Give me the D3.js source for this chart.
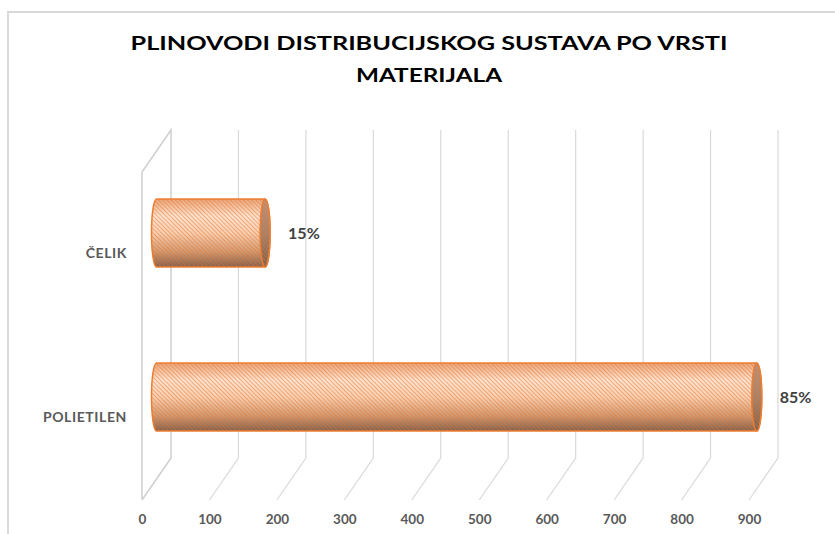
<!DOCTYPE html>
<html>
<head>
<meta charset="utf-8">
<script src="https://cdn.jsdelivr.net/npm/d3@7"></script>
<style>
  body { margin: 0; background: #fff; }
  text { font-family: Lato, "Open Sans", sans-serif; }
</style>
</head>
<body>
<div id="chart"></div>
<script>
// data
var categories = ["ČELIK", "POLIETILEN"];
var values = [161, 890];
var shares = ["15%", "85%"];
var xTicks = [0, 100, 200, 300, 400, 500, 600, 700, 800, 900];
var titleLines = ["PLINOVODI DISTRIBUCIJSKOG SUSTAVA PO VRSTI", "MATERIJALA"];
var titleWidths = [597, 146];

var width = 835, height = 534;
var back = {left: 171, right: 778, top: 130, bottom: 458};
var depth = {dx: -29, dy: 42};   // back plane -> front plane

var svg = d3.select("#chart")
    .append("svg")
    .attr("width", width)
    .attr("height", height);

// chart frame
svg.append("path")
    .attr("d", "M8,534 L8,12 L835,12")
    .attr("fill", "none")
    .attr("stroke", "#d9d9d9")
    .attr("stroke-width", 2);

// title
svg.selectAll(".title")
    .data(titleLines)
    .enter()
    .append("text")
    .attr("class", "title")
    .attr("x", 429)
    .attr("y", function (d, i) { return 50 + i * 32; })
    .attr("text-anchor", "middle")
    .attr("textLength", function (d, i) { return titleWidths[i]; })
    .attr("lengthAdjust", "spacingAndGlyphs")
    .style("font-size", "19px")
    .style("font-weight", "bold")
    .style("fill", "#000")
    .text(function (d) { return d; });

var x = d3.scaleLinear()
    .domain([0, 900])
    .range([back.left, back.right]);

var y = d3.scaleBand()
    .domain(categories)
    .range([back.top, back.bottom])
    .padding(0);

// left wall
svg.append("path")
    .attr("d", "M" + (x(0) + depth.dx) + "," + (back.bottom + depth.dy) +
        " L" + (x(0) + depth.dx) + "," + (back.top + depth.dy) +
        " L" + x(0) + "," + back.top +
        " L" + x(0) + "," + back.bottom +
        " L" + (x(0) + depth.dx) + "," + (back.bottom + depth.dy))
    .attr("fill", "none")
    .attr("stroke", "#cfcfcf")
    .attr("stroke-width", 1.5);

// gridlines: up the back wall, then across the floor
svg.append("g")
    .selectAll("path")
    .data(xTicks.slice(1))
    .enter()
    .append("path")
    .attr("d", function (d) {
        return "M" + x(d) + "," + back.top + " L" + x(d) + "," + back.bottom +
            " L" + (x(d) + depth.dx) + "," + (back.bottom + depth.dy);
    })
    .attr("fill", "none")
    .attr("stroke", "#d9d9d9")
    .attr("stroke-width", 1.2);

// fills for the cylinders
var defs = svg.append("defs");
var grad = defs.append("linearGradient")
    .attr("id", "tube")
    .attr("x1", 0).attr("y1", 0).attr("x2", 0).attr("y2", 1);
[[0, "#e9a57a"], [0.25, "#fde3d0"], [0.5, "#f8d0b2"], [0.78, "#cf9871"], [1, "#7d6050"]]
    .forEach(function (s) {
        grad.append("stop").attr("offset", s[0]).attr("stop-color", s[1]);
    });

var hatch = defs.append("pattern")
    .attr("id", "hatch")
    .attr("patternUnits", "userSpaceOnUse")
    .attr("width", 3)
    .attr("height", 3)
    .attr("patternTransform", "rotate(-45)");
hatch.append("rect")
    .attr("width", 1).attr("height", 3)
    .attr("fill", "#e8732a").attr("opacity", 0.5);

var capGrad = defs.append("linearGradient")
    .attr("id", "cap")
    .attr("x1", 0).attr("y1", 0).attr("x2", 0).attr("y2", 1);
[[0, "#b89480"], [0.5, "#a4846f"], [1, "#7a6050"]]
    .forEach(function (s) {
        capGrad.append("stop").attr("offset", s[0]).attr("stop-color", s[1]);
    });

// bars sit halfway between back and front planes
var mid = {dx: depth.dx / 2, dy: depth.dy / 2};
var rx = 5, barH = 68;

var bars = svg.append("g")
    .selectAll("g")
    .data(categories)
    .enter()
    .append("g");

function barY(d) { return y(d) + y.bandwidth() / 2 + mid.dy; }
function barEnd(d, i) { return x(values[i]) + mid.dx; }

function bodyPath(d, i) {
    var xs = x(0) + mid.dx, xe = barEnd(d, i);
    var cy = barY(d);
    var t = cy - barH / 2, b = cy + barH / 2, ry = barH / 2;
    return "M" + xs + "," + t + " L" + xe + "," + t +
        " A" + rx + "," + ry + " 0 0 1 " + xe + "," + b +
        " L" + xs + "," + b +
        " A" + rx + "," + ry + " 0 0 1 " + xs + "," + t + "Z";
}

bars.append("path")
    .attr("d", bodyPath)
    .attr("fill", "url(#tube)");
bars.append("path")
    .attr("d", bodyPath)
    .attr("fill", "url(#hatch)")
    .attr("stroke", "#ed7d31")
    .attr("stroke-width", 1.5);

bars.append("ellipse")
    .attr("cx", barEnd)
    .attr("cy", barY)
    .attr("rx", rx)
    .attr("ry", barH / 2)
    .attr("fill", "url(#cap)");
bars.append("ellipse")
    .attr("cx", barEnd)
    .attr("cy", barY)
    .attr("rx", rx)
    .attr("ry", barH / 2)
    .attr("fill", "url(#hatch)")
    .attr("stroke", "#ed7d31")
    .attr("stroke-width", 1.5);

// share labels
bars.append("text")
    .attr("x", function (d, i) { return barEnd(d, i) + 23; })
    .attr("y", barY)
    .attr("dy", "0.35em")
    .style("font-size", "16px")
    .style("font-weight", "bold")
    .style("fill", "#404040")
    .text(function (d, i) { return shares[i]; });

// value axis on the front edge of the floor
var xFront = d3.scaleLinear()
    .domain(x.domain())
    .range([back.left + depth.dx, back.right + depth.dx]);
svg.append("g")
    .attr("transform", "translate(0," + (back.bottom + depth.dy + 6) + ")")
    .call(d3.axisBottom(xFront).tickValues(xTicks).tickSize(0).tickPadding(8))
    .call(function (g) { g.select(".domain").remove(); })
    .selectAll("text")
    .style("font-family", "Lato, sans-serif")
    .style("font-size", "13.5px")
    .style("font-weight", "bold")
    .style("fill", "#595959");

// category axis on the front-left wall edge
var yFront = d3.scaleBand()
    .domain(categories)
    .range([back.top + depth.dy, back.bottom + depth.dy]);
svg.append("g")
    .attr("transform", "translate(" + (back.left + depth.dx) + ",0)")
    .call(d3.axisLeft(yFront).tickSize(0).tickPadding(15))
    .call(function (g) { g.select(".domain").remove(); })
    .selectAll("text")
    .style("font-family", "Lato, sans-serif")
    .style("font-size", "14px")
    .style("letter-spacing", "0.6px")
    .style("font-weight", "bold")
    .style("fill", "#595959");
</script>
</body>
</html>
